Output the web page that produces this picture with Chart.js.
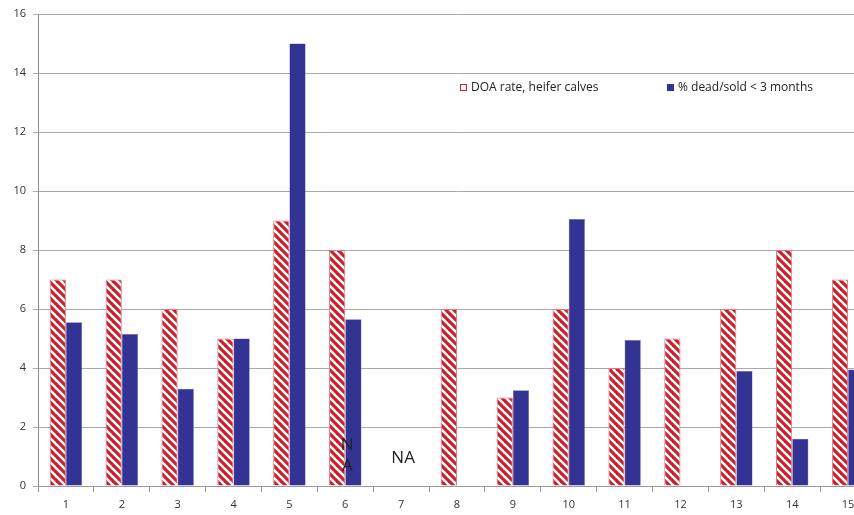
<!DOCTYPE html>
<html>
<head>
<meta charset="utf-8">
<script src="https://cdn.jsdelivr.net/npm/chart.js@4/dist/chart.umd.min.js"></script>
<style>
  html, body { margin: 0; padding: 0; background: #fff; overflow: hidden; }
  #wrap { width: 880px; height: 515px; }
</style>
</head>
<body>
<div id="wrap"><canvas id="c" width="880" height="515"></canvas></div>
<script>
// Herd numbers along the x axis
const categories = ['1','2','3','4','5','6','7','8','9','10','11','12','13','14','15'];
// DOA rate, heifer calves (%)
const doaRate = [7, 7, 6, 5, 9, 8, null, 6, 3, 6, 4, 5, 6, 8, 7];
// % dead/sold before 3 months
const deadSold = [5.55, 5.15, 3.3, 5.0, 15, 5.65, null, null, 3.25, 9.05, 4.95, null, 3.9, 1.6, 3.95];
const yTicks = [0, 2, 4, 6, 8, 10, 12, 14, 16];
const seriesLabels = ['DOA rate, heifer calves', '% dead/sold < 3 months'];
// "not available" notes written in the plot
const naNotes = [
  { cat: '6', lines: ['N', 'A'], dx: 2 },
  { cat: '7', lines: ['NA'], dx: 2 }
];

const RED = '#cc1f2b';
const BLUE = '#333393';
const FONT = "'Open Sans', 'DejaVu Sans', sans-serif";

// diagonal red/white stripe fill
function stripePattern() {
  const s = 8;
  const pc = document.createElement('canvas');
  pc.width = s; pc.height = s;
  const p = pc.getContext('2d');
  p.fillStyle = '#fff';
  p.fillRect(0, 0, s, s);
  p.strokeStyle = RED;
  p.lineWidth = 3.2;
  for (let k = -1; k <= 1; k++) {
    p.beginPath();
    p.moveTo(k * s - 1, -1);
    p.lineTo(k * s + s + 1, s + 1);
    p.stroke();
  }
  return document.getElementById('c').getContext('2d').createPattern(pc, 'repeat');
}

const notesPlugin = {
  id: 'naNotes',
  afterDatasetsDraw(chart) {
    const ctx = chart.ctx;
    const xs = chart.scales.x, ys = chart.scales.y;
    ctx.save();
    ctx.fillStyle = '#222';
    ctx.font = '17px ' + FONT;
    ctx.textAlign = 'center';
    ctx.textBaseline = 'middle';
    naNotes.forEach(n => {
      const x = xs.getPixelForValue(categories.indexOf(n.cat)) + n.dx;
      if (n.lines.length === 2) {
        ctx.fillText(n.lines[0], x, ys.getPixelForValue(1.38));
        ctx.fillText(n.lines[1], x, ys.getPixelForValue(0.68));
      } else {
        ctx.fillText(n.lines[0], x, ys.getPixelForValue(0.95));
      }
    });
    ctx.restore();
  }
};

const legendPlugin = {
  id: 'inLegend',
  afterDraw(chart) {
    const ctx = chart.ctx;
    ctx.save();
    ctx.font = '12px ' + FONT;
    ctx.textBaseline = 'middle';
    ctx.fillStyle = '#222';
    const y = 88;
    // hatched series: hollow red box
    ctx.strokeStyle = RED;
    ctx.lineWidth = 1;
    ctx.fillStyle = '#fff';
    ctx.fillRect(460.5, y - 3.5, 6, 6);
    ctx.strokeRect(460.5, y - 3.5, 6, 6);
    ctx.fillStyle = '#222';
    ctx.fillText(seriesLabels[0], 471, y);
    // solid series
    ctx.fillStyle = BLUE;
    ctx.fillRect(667, y - 4, 7, 7);
    ctx.fillStyle = '#222';
    ctx.fillText(seriesLabels[1], 678, y);
    ctx.restore();
  }
};

new Chart(document.getElementById('c'), {
  type: 'bar',
  data: {
    labels: categories,
    datasets: [
      {
        label: seriesLabels[0],
        data: doaRate,
        backgroundColor: stripePattern(),
        borderColor: '#e07a80',
        borderWidth: 1,
        borderSkipped: 'bottom'
      },
      {
        label: seriesLabels[1],
        data: deadSold,
        backgroundColor: BLUE,
        borderColor: '#6a6ab8',
        borderWidth: 0.5,
        borderSkipped: 'bottom'
      }
    ]
  },
  options: {
    responsive: false,
    animation: false,
    devicePixelRatio: 1,
    layout: { padding: { left: 0, right: 4, top: 14, bottom: 0 } },
    plugins: {
      legend: { display: false },
      tooltip: { enabled: false }
    },
    datasets: { bar: { barPercentage: 1.0, categoryPercentage: 0.58 } },
    scales: {
      x: {
        offset: true,
        grid: { display: true, drawOnChartArea: false, offset: true, tickLength: 6, color: '#9a9a9a' },
        border: { color: '#9a9a9a' },
        ticks: { color: '#333', font: { family: FONT, size: 11 }, padding: 6, maxRotation: 0 },
        afterFit(s) { s.height = 29; }
      },
      y: {
        min: 0, max: 16,
        afterBuildTicks(s) { s.ticks = yTicks.map(v => ({ value: v })); },
        grid: { color: '#aaaaaa', tickLength: 5 },
        border: { color: '#8a8a8a' },
        ticks: { color: '#333', font: { family: FONT, size: 11 }, padding: 7 },
        afterFit(s) { s.width = 38; }
      }
    }
  },
  plugins: [notesPlugin, legendPlugin]
});
</script>
</body>
</html>
